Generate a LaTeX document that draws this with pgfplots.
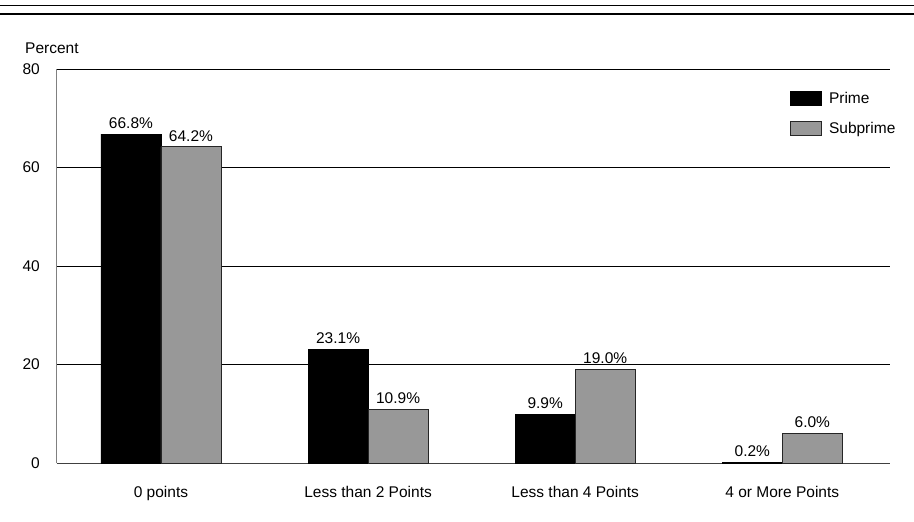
\documentclass[border=0pt]{standalone}
\usepackage{pgfplots}
\pgfplotsset{compat=1.18}
\usepackage{fontspec}
\setmainfont{Liberation Sans}
\definecolor{barblack}{RGB}{0,0,0}
\definecolor{bargrey}{RGB}{152,152,152}
\begin{document}
\fontsize{15.5pt}{18pt}\selectfont
\begin{tikzpicture}[x=1pt,y=1pt]
\useasboundingbox (0,0) rectangle (914,-522);
\draw[line width=1.0pt] (0,-5.5) -- (914,-5.5);
\draw[line width=1.6pt] (0,-14) -- (914,-14);
\node[anchor=west,inner sep=0pt] at (25,-48) {Percent};
\begin{axis}[
  at={(57pt,-463pt)}, anchor=south west,
  scale only axis, width=833pt, height=394pt,
  ymin=0, ymax=80, ytick={0,20,40,60,80},
  xmin=-0.502, xmax=3.52,
  xtick={0,1,2,3},
  xticklabels={0 points,Less than 2 Points,Less than 4 Points,4 or More Points},
  axis lines=left,
  axis line style={-},
  x axis line style={black!75, line width=1pt},
  y axis line style={black!50, line width=1pt},
  major tick length=0pt,
  ymajorgrids, grid style={black, line width=0.8pt},
  ybar=0pt, bar width=60pt,
  /pgf/number format/assume math mode=true,
  tick label style={font=\fontsize{15.5pt}{18pt}\selectfont},
  yticklabel style={anchor=east, inner sep=0pt, xshift=-17pt},
  xticklabel style={anchor=north, inner sep=0pt, yshift=-23pt},
  nodes near coords={\pgfmathprintnumber[fixed,fixed zerofill,precision=1]{\pgfplotspointmeta}\%},
  nodes near coords style={font=\fontsize{15.5pt}{18pt}\selectfont, inner sep=0pt, anchor=south, yshift=5pt},
  legend style={at={(0.88,0.944)}, anchor=north west, draw=none, fill=none, inner sep=0pt,
    row sep=14.5pt, font=\fontsize{15.5pt}{18pt}\selectfont,
    nodes={inner sep=0pt, text height=11pt, text depth=3pt}},
  legend cell align=left,
  legend image code/.code={\fill[#1] (0pt,-6pt) rectangle (31pt,8pt);},
]
\addplot[fill=barblack, draw=black, line width=0.8pt] coordinates {(0,66.8) (1,23.1) (2,9.9) (3,0.2)};
\addplot[fill=bargrey, draw=black!85, line width=0.8pt] coordinates {(0,64.2) (1,10.9) (2,19.0) (3,6.0)};
\legend{\hspace{7pt}Prime,\hspace{7pt}Subprime}
\end{axis}
\end{tikzpicture}
\end{document}
